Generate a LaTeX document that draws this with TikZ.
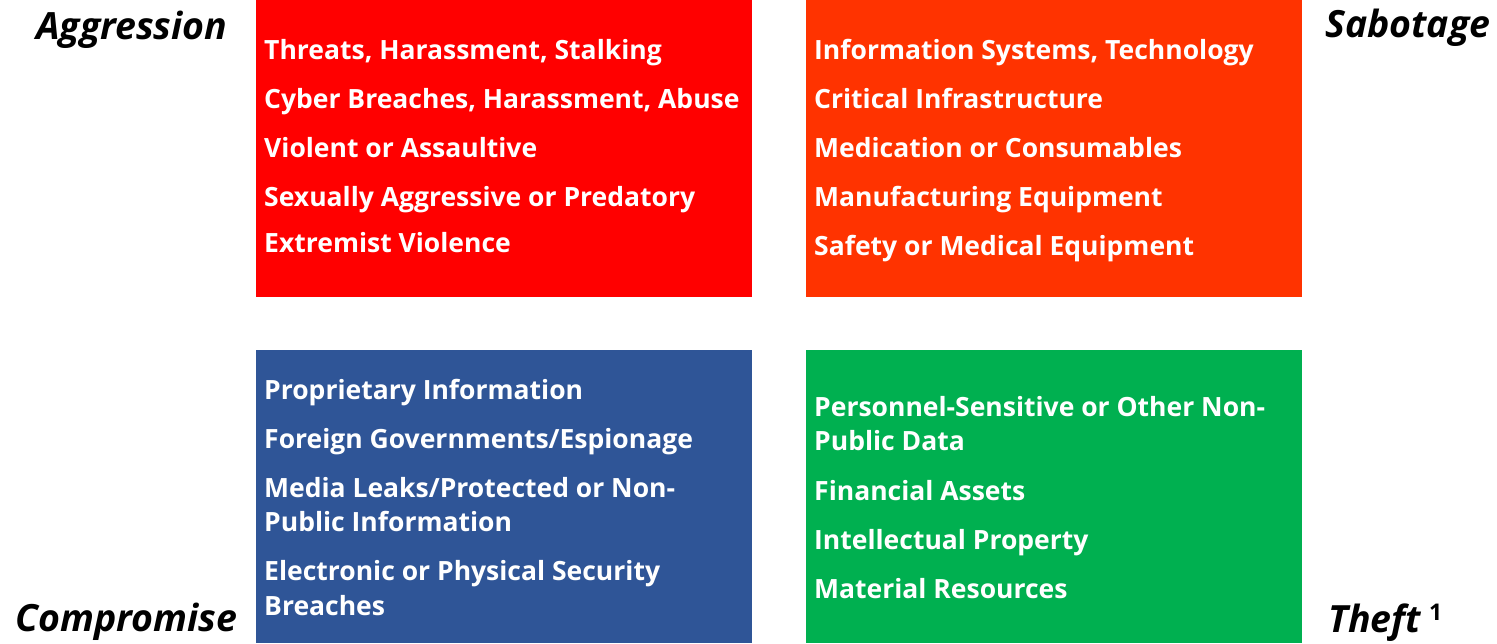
\documentclass[tikz,border=0pt]{standalone}
\usepackage{fontspec}
\setmainfont{Open Sans}
\definecolor{aggred}{HTML}{FF0000}
\definecolor{sabred}{HTML}{FF3300}
\definecolor{comblue}{HTML}{2F5597}
\definecolor{thegreen}{HTML}{00B050}
\begin{document}
\begin{tikzpicture}[x=1pt,y=-1pt,
    quad/.style={anchor=north west,minimum width=496pt,inner sep=0pt},
    item/.style={anchor=base west,inner sep=0pt,text=white,font=\fontsize{26.5}{34}\selectfont\bfseries},
    corner/.style={anchor=base west,inner sep=0pt,font=\fontsize{37.5}{44}\selectfont\bfseries\itshape}]
    \useasboundingbox (0,0) rectangle (1497,643);
    % the four quadrants
    \node[quad,fill=aggred,minimum height=297pt] (aggbox) at (256,0) {};
    \node[quad,fill=sabred,minimum height=297pt] (sabbox) at (806,0) {};
    \node[quad,fill=comblue,minimum height=293pt] (combox) at (256,350) {};
    \node[quad,fill=thegreen,minimum height=293pt] (thebox) at (806,350) {};
    % items
    \foreach \yb/\txt [count=\i] in {59/{Threats, Harassment, Stalking},
        108/{Cyber Breaches, Harassment, Abuse},157/{Violent or Assaultive},
        206/{Sexually Aggressive or Predatory},252/{Extremist Violence}}
        \node[item] (agg\i) at (264,\yb) {\txt};
    \foreach \yb/\txt [count=\i] in {59/{Information Systems, Technology},
        108/{Critical Infrastructure},157/{Medication or Consumables},
        206/{Manufacturing Equipment},255/{Safety or Medical Equipment}}
        \node[item] (sab\i) at (814,\yb) {\txt};
    \foreach \yb/\txt [count=\i] in {399/{Proprietary Information},
        448/{Foreign Governments/Espionage},497/{Media Leaks/Protected or Non-},
        531/{Public Information},580/{Electronic or Physical Security},615/{Breaches}}
        \node[item] (com\i) at (264,\yb) {\txt};
    \foreach \yb/\txt [count=\i] in {416/{Personnel-Sensitive or Other Non-},
        450/{Public Data},500/{Financial Assets},549/{Intellectual Property},
        598/{Material Resources}}
        \node[item] (the\i) at (814,\yb) {\txt};
    % corner labels
    \node[corner] (aggression) at (36,39) {Aggression};
    \node[corner] (sabotage) at (1325,37) {Sabotage};
    \node[corner] (compromise) at (15,631) {Compromise};
    \node[corner] (theft) at (1328,632) {Theft\hspace{8pt}\raisebox{12pt}{\fontsize{23}{28}\selectfont\upshape 1}};
\end{tikzpicture}
\end{document}
